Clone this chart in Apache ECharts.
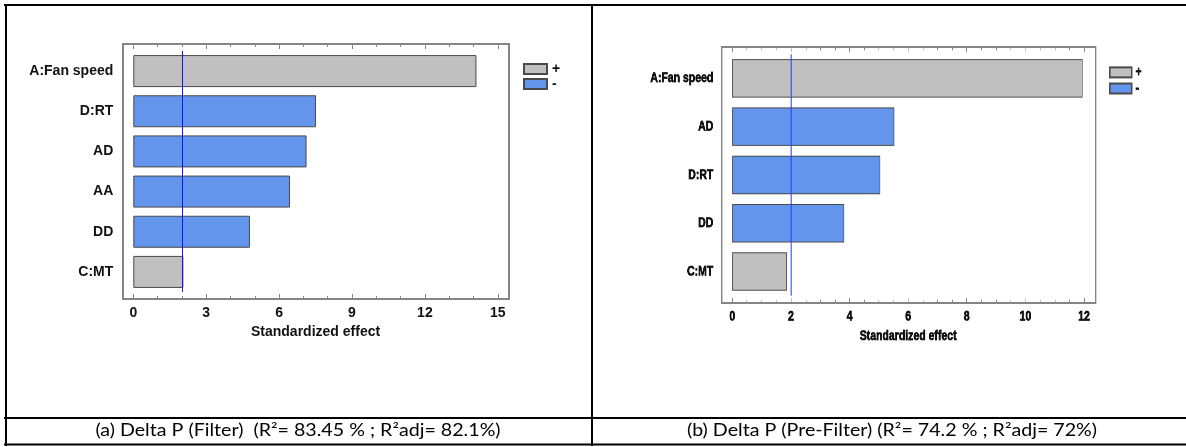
<!DOCTYPE html>
<html>
<head>
<meta charset="utf-8">
<script src="https://cdn.jsdelivr.net/npm/echarts@6/dist/echarts.min.js"></script>
<style>
html,body{margin:0;padding:0;background:#fff;}
#wrap{position:relative;width:1186px;height:447px;overflow:hidden;}
#c{position:absolute;left:0;top:0;width:1186px;height:447px;}
#r{position:absolute;left:592px;top:0;width:792px;height:447px;transform:scaleX(0.75);transform-origin:0 0;}
</style>
</head>
<body>
<div id="wrap"><div id="c"></div><div id="r"></div></div>
<script>
// ---- data ----
var catsA = ['A:Fan speed', 'D:RT', 'AD', 'AA', 'DD', 'C:MT'];
var valsA = [14.12, 7.52, 7.13, 6.45, 4.80, 2.06];
var signsA = ['+', '-', '-', '-', '-', '+'];
var refA = 2.02;
var xTicksA = {min: 0, max: 15, interval: 3};

var catsB = ['A:Fan speed', 'AD', 'D:RT', 'DD', 'C:MT'];
var valsB = [11.95, 5.53, 5.05, 3.82, 1.86];
var signsB = ['+', '-', '-', '-', '+'];
var refB = 2.0;
var xTicksB = {min: 0, max: 12, interval: 2};

var axisName = 'Standardized effect';
var legendNames = ['+', '-'];
var captionA = '(a) Delta P (Filter)  (R\u00b2= 83.45 % ; R\u00b2adj= 82.1%)';
var captionB = '(b) Delta P (Pre-Filter) (R\u00b2= 74.2 % ; R\u00b2adj= 72%)';

// ---- styles ----
var GRAY = '#c0c0c0', BLUE = '#6495ed', EDGE = '#4a4a4a', FRAME = '#858585';

function split(vals, signs, s) {
  return vals.map(function (v, i) { return signs[i] === s ? v : null; });
}

function panelOption(p) {
  var FONT = {fontFamily: 'Liberation Sans, Arial, sans-serif', fontWeight: 'bold', fontSize: 14, color: '#111'};
  if (p.stroke) { FONT.textBorderColor = '#111'; FONT.textBorderWidth = p.stroke; }
  var tickBase = {
    gridIndex: 0, type: 'value', min: p.ticks.min, max: p.ticks.max, interval: p.ticks.interval,
    offset: 7, axisLine: {show: false}, splitLine: {show: false},
    axisTick: {show: true, inside: true, length: 5, lineStyle: {color: FRAME, width: 1}},
    minorTick: {show: true, splitNumber: p.minorSplit, length: 3, lineStyle: {color: FRAME, width: 1}},
    minorSplitLine: {show: false}
  };
  var common = {type: 'bar', xAxisIndex: 0, yAxisIndex: 0, barWidth: p.barWidth, barGap: '-100%', animation: false};
  return {
    backgroundColor: 'transparent',
    animation: false,
    grid: [p.grid],
    xAxis: [
      Object.assign({}, tickBase, {
        position: 'bottom', axisLabel: Object.assign({margin: 7}, FONT),
        name: axisName, nameLocation: 'middle', nameGap: p.nameGap,
        nameTextStyle: Object.assign({}, FONT)
      }),
      Object.assign({}, tickBase, {position: 'top', axisLabel: {show: false}})
    ],
    yAxis: [{
      gridIndex: 0, type: 'category', data: p.cats, inverse: true,
      axisLine: {show: false}, axisTick: {show: false}, splitLine: {show: false},
      axisLabel: Object.assign({margin: p.labelMargin}, FONT)
    }],
    legend: [{
      data: legendNames, orient: 'vertical', left: p.legend.left, top: p.legend.top, padding: 0,
      itemWidth: p.legend.w, itemHeight: 10, itemGap: p.legend.gap, icon: 'rect',
      textStyle: Object.assign({}, FONT), selectedMode: false
    }],
    series: [
      Object.assign({}, common, {
        name: '+', data: split(p.vals, p.signs, '+'),
        itemStyle: {color: GRAY, borderColor: EDGE, borderWidth: 1}
      }),
      Object.assign({}, common, {
        name: '-', data: split(p.vals, p.signs, '-'),
        itemStyle: {color: BLUE, borderColor: EDGE, borderWidth: 1},
        markLine: {
          silent: true, symbol: ['none', 'none'], animation: false,
          label: {show: false},
          lineStyle: {color: p.refColor, width: p.refWidth, type: 'solid', opacity: 1},
          data: [{xAxis: p.ref}]
        }
      })
    ],
    graphic: [
      {type: 'rect', shape: p.frame, style: {fill: 'none', stroke: FRAME, lineWidth: 2}, z: 10, silent: true}
    ].concat(p.extra || [])
  };
}

// ---- left panel + table (unscaled) ----
var optA = panelOption({
  cats: catsA, vals: valsA, signs: signsA, ref: refA, ticks: xTicksA, minorSplit: 3,
  grid: {left: 133.3, top: 51, width: 364.5, height: 241},
  frame: {x: 123, y: 44, width: 386, height: 255},
  barWidth: 32, labelMargin: 20, nameGap: 25, refColor: '#1414ff', refWidth: 1,
  legend: {left: 523, top: 62, w: 23, gap: 1},
  extra: [
    {type: 'line', shape: {x1: 4, y1: 5, x2: 1186, y2: 5}, style: {stroke: '#000', lineWidth: 2}, silent: true},
    {type: 'line', shape: {x1: 6, y1: 4, x2: 6, y2: 446}, style: {stroke: '#000', lineWidth: 2}, silent: true},
    {type: 'line', shape: {x1: 592, y1: 4, x2: 592, y2: 446}, style: {stroke: '#000', lineWidth: 2}, silent: true},
    {type: 'line', shape: {x1: 4, y1: 418, x2: 1186, y2: 418}, style: {stroke: '#000', lineWidth: 2}, silent: true},
    {type: 'line', shape: {x1: 4, y1: 444.5, x2: 1186, y2: 444.5}, style: {stroke: '#000', lineWidth: 2}, silent: true},
    {type: 'text', x: 298, y: 431, scaleX: 1.19, style: {text: captionA, fill: '#000', font: '16.5px Lato, "Open Sans", sans-serif', textAlign: 'center', textVerticalAlign: 'middle'}, silent: true},
    {type: 'text', x: 892, y: 431, scaleX: 1.19, style: {text: captionB, fill: '#000', font: '16.5px Lato, "Open Sans", sans-serif', textAlign: 'center', textVerticalAlign: 'middle'}, silent: true}
  ]
});
optA.backgroundColor = '#fff';

// ---- right panel (drawn in a container squeezed horizontally by 0.75) ----
var SX = 0.75, OX = 592;
function u(x) { return (x - OX) / SX; }
var optB = panelOption({
  cats: catsB, vals: valsB, signs: signsB, ref: refB, ticks: xTicksB, minorSplit: 4,
  grid: {left: u(732.3), top: 54.2, width: 351.7 / SX, height: 241.5},
  frame: {x: u(721.7), y: 47, width: 374 / SX, height: 256},
  barWidth: 38.5, labelMargin: 19 / SX, nameGap: 24.5, refColor: '#2a3cff', refWidth: 1.4,
  legend: {left: u(1109), top: 65, w: 22 / SX, gap: 1.5}, stroke: 0.7
});

echarts.init(document.getElementById('c'), null, {renderer: 'canvas'}).setOption(optA);
echarts.init(document.getElementById('r'), null, {renderer: 'canvas', devicePixelRatio: 2}).setOption(optB);
</script>
</body>
</html>
